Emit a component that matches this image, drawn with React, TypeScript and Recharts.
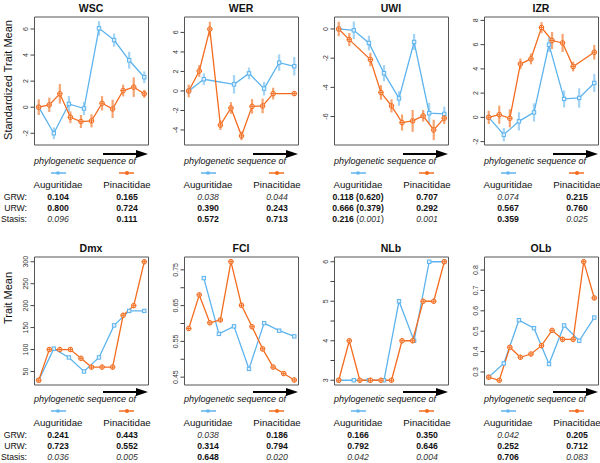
import { LineChart, Line, XAxis, YAxis, ErrorBar, ReferenceArea } from 'recharts';

const BLUE = '#5cb3ee';
const BLUE_ERR = '#a3d3f5';
const ORANGE = '#f36c1f';
const ORANGE_ERR = '#f6a472';
const FONT = '"Liberation Sans", Arial, sans-serif';

// positions along the phylogenetic sequence
const augPos = [0, 1.43, 2.86, 4.29, 5.71, 7.14, 8.57, 10];
const pinPos = [0, 1, 2, 3, 4, 5, 6, 7, 8, 9, 10];

// standardized traits (with error bars)
const wscAug = [0, -2.0, 0.25, -0.1, 6.05, 5.15, 3.6, 2.3];
const wscAugErr = [0, 0.45, 0.6, 0.5, 0.55, 0.5, 0.65, 0.45];
const wscPin = [0, 0.18, 1.03, -0.77, -1.1, -1.05, 0.3, -0.13, 1.28, 1.54, 1.03];
const wscPinErr = [0.6, 0.55, 0.75, 0.45, 0.5, 0.5, 0.55, 0.7, 0.45, 0.75, 0.3];

const werAug = [0, 1.2, null, 0.68, 1.8, 0.24, 2.9, 2.53];
const werAugErr = [0, 0.6, null, 0.95, 0.6, 0.7, 0.85, 0.95];
const werPin = [0, 2.05, 6.34, -3.5, -1.75, -4.6, -1.58, -1.54, -0.27, null, -0.27];
const werPinErr = [0.65, 0.6, 0.75, 0.5, 0.6, 0.45, 0.75, 0.75, 0.6, null, 0.2];

const uwiAug = [0, -0.09, -0.96, -3.03, -4.76, -0.89, -5.77, -5.82];
const uwiAugErr = [0, 0.6, 0.5, 0.55, 0.5, 0.55, 0.7, 0.5];
const uwiPin = [0, -0.73, null, -2.1, -4.35, -5.27, -6.41, -6.3, -5.95, -6.92, -6.11];
const uwiPinErr = [0.5, 0.45, null, 0.45, 0.5, 0.45, 0.55, 0.75, 0.4, 0.7, 0.4];

const izrAug = [0, -1.43, -0.33, 0.41, 6.0, 1.52, 1.6, 2.84];
const izrAugErr = [0, 0.55, 0.75, 0.75, 0.6, 0.7, 0.8, 0.75];
const izrPin = [0, 0.22, -0.08, 4.41, 4.82, 7.41, 6.34, 6.14, 4.19, null, 5.37];
const izrPinErr = [0.55, 0.75, 0.75, 0.45, 0.45, 0.45, 0.7, 0.75, 0.4, null, 0.6];

// raw traits
const dmxAug = [30, 102, 82, 50, 82, 155, 188, 188];
const dmxPin = [30, 100, 100, 100, 80, 60, 60, 60, 178, 200, 300];
const fciAug = [null, 0.727, 0.571, 0.592, 0.473, 0.601, 0.58, 0.564];
const fciPin = [0.586, 0.68, 0.602, 0.61, 0.773, 0.651, 0.591, 0.529, 0.478, 0.46, 0.442];
const nlbAug = [3, 3, 3, 3, 5, 4, 6, 6];
const nlbPin = [3, 4, 3, 3, 3, 3, 4, 4, 5, 5, 6];
const olbAug = [0.275, 0.342, 0.554, 0.515, 0.339, 0.528, 0.453, 0.567];
const olbPin = [0.274, 0.259, 0.421, 0.372, 0.388, 0.429, 0.504, 0.46, 0.46, 0.841, 0.663];

// model support (b = bold, i = italic, n = plain)
const statRows = ['GRW:', 'URW:', 'Stasis:'];
const wscStats = [['b:0.104', 'b:0.800', 'i:0.096'], ['b:0.165', 'b:0.724', 'b:0.111']];
const werStats = [['i:0.038', 'b:0.390', 'b:0.572'], ['i:0.044', 'b:0.243', 'b:0.713']];
const uwiStats = [['b:0.118 (0.620)', 'b:0.666 (0.379)', 'b:0.216|n: (|i:0.001|n:)'], ['b:0.707', 'b:0.292', 'i:0.001']];
const izrStats = [['i:0.074', 'b:0.567', 'b:0.359'], ['b:0.215', 'b:0.760', 'i:0.025']];
const dmxStats = [['b:0.241', 'b:0.723', 'i:0.036'], ['b:0.443', 'b:0.552', 'i:0.005']];
const fciStats = [['i:0.038', 'b:0.314', 'b:0.648'], ['b:0.186', 'b:0.794', 'i:0.020']];
const nlbStats = [['b:0.166', 'b:0.792', 'i:0.042'], ['b:0.350', 'b:0.646', 'i:0.004']];
const olbStats = [['i:0.042', 'b:0.252', 'b:0.706'], ['b:0.205', 'b:0.712', 'i:0.083']];

const toRows = (pos: number[], ys: (number | null)[], errs?: (number | null)[]) =>
  pos
    .map((x, i) => ({ x, y: ys[i], e: errs ? errs[i] : undefined }))
    .filter((d) => d.y !== null && d.y !== undefined);

const panels = [
  { title: 'WSC', col: 0, row: 0, aug: toRows(augPos, wscAug, wscAugErr), pin: toRows(pinPos, wscPin, wscPinErr), domain: [-2.9, 6.92], ticks: [-2, 0, 2, 4, 6], labels: null, stats: wscStats },
  { title: 'WER', col: 1, row: 0, aug: toRows(augPos, werAug, werAugErr), pin: toRows(pinPos, werPin, werPinErr), domain: [-5.54, 7.58], ticks: [-4, -2, 0, 2, 4, 6], labels: null, stats: werStats },
  { title: 'UWI', col: 2, row: 0, aug: toRows(augPos, uwiAug, uwiAugErr), pin: toRows(pinPos, uwiPin, uwiPinErr), domain: [-7.95, 0.82], ticks: [-6, -4, -2, 0], labels: null, stats: uwiStats },
  { title: 'IZR', col: 3, row: 0, aug: toRows(augPos, izrAug, izrAugErr), pin: toRows(pinPos, izrPin, izrPinErr), domain: [-2.28, 8.28], ticks: [-2, 0, 2, 4, 6, 8], labels: null, stats: izrStats },
  { title: 'Dmx', col: 0, row: 1, aug: toRows(augPos, dmxAug), pin: toRows(pinPos, dmxPin), domain: [19.2, 310.8], ticks: [50, 100, 150, 200, 250, 300], labels: null, stats: dmxStats },
  { title: 'FCI', col: 1, row: 1, aug: toRows(augPos, fciAug), pin: toRows(pinPos, fciPin), domain: [0.428, 0.786], ticks: [0.45, 0.5, 0.55, 0.6, 0.65, 0.7, 0.75], labels: [0.45, 0.55, 0.65, 0.75], stats: fciStats },
  { title: 'NLb', col: 2, row: 1, aug: toRows(augPos, nlbAug), pin: toRows(pinPos, nlbPin), domain: [2.88, 6.12], ticks: [3, 3.5, 4, 4.5, 5, 5.5, 6], labels: [3, 4, 5, 6], stats: nlbStats },
  { title: 'OLb', col: 3, row: 1, aug: toRows(augPos, olbAug), pin: toRows(pinPos, olbPin), domain: [0.236, 0.864], ticks: [0.3, 0.4, 0.5, 0.6, 0.7, 0.8], labels: null, stats: olbStats },
];

const augDot = (p: any) => {
  const { cx, cy, index } = p;
  if (cx == null || cy == null) return <g key={`a${index}`} />;
  return <rect key={`a${index}`} x={cx - 1.7} y={cy - 1.7} width={3.4} height={3.4} fill="#dff0fc" stroke={BLUE} strokeWidth={1} />;
};

const pinDot = (p: any) => {
  const { cx, cy, index } = p;
  if (cx == null || cy == null) return <g key={`p${index}`} />;
  return (
    <g key={`p${index}`}>
      <circle cx={cx} cy={cy} r={2.3} fill="#fde3d2" stroke={ORANGE} strokeWidth={1} />
      <line x1={cx - 2.5} x2={cx + 2.5} y1={cy} y2={cy} stroke={ORANGE} strokeWidth={0.9} />
      <line x1={cx} x2={cx} y1={cy - 2.5} y2={cy + 2.5} stroke={ORANGE} strokeWidth={0.9} />
    </g>
  );
};

const makeTick = (labels: number[] | null) => (p: any) => {
  const { x, y, payload, index } = p;
  const v = payload.value;
  const show = !labels || labels.includes(v);
  return (
    <text key={`t${index}`} x={x} y={y} transform={`rotate(-90 ${x} ${y})`} textAnchor="middle" fontSize={7} fill="#333" fontFamily={FONT}>
      {show ? String(v) : ''}
    </text>
  );
};

function StatText({ x, y, spec }: { x: number; y: number; spec: string }) {
  const parts = spec.split('|').map((s) => [s.slice(0, 1), s.slice(2)]);
  return (
    <text x={x} y={y} textAnchor="middle" dominantBaseline="central" fontSize={8.7} fill="#111" fontFamily={FONT}>
      {parts.map(([k, t], i) => (
        <tspan key={i} fontWeight={k === 'b' ? 'bold' : 'normal'} fontStyle={k === 'i' ? 'italic' : 'normal'} fill={k === 'i' ? '#333' : '#111'}>
          {t}
        </tspan>
      ))}
    </text>
  );
}

function PanelText({ col, row, title, stats }: { col: number; row: number; title: string; stats: string[][] }) {
  const px = col * 150;
  const py = row * 240;
  const s = row === 0 ? 0 : -2;
  const augX = px + 58;
  const pinX = px + 127;
  return (
    <g>
      <text x={px + 91} y={py + 8} textAnchor="middle" dominantBaseline="central" fontSize={10.5} fontWeight="bold" fontFamily={FONT} fill="#111">
        {title}
      </text>
      <line x1={px + 103} x2={px + 139} y1={py + 154 + s} y2={py + 154 + s} stroke="#000" strokeWidth={1.8} />
      <polygon points={`${px + 148},${py + 154 + s} ${px + 136},${py + 150 + s} ${px + 136},${py + 158 + s}`} fill="#000" />
      <text x={px + 85} y={py + 161 + s} textAnchor="middle" dominantBaseline="central" fontSize={9} fontStyle="italic" fontFamily={FONT} fill="#111">
        phylogenetic sequence of
      </text>
      <line x1={augX - 7} x2={augX + 8} y1={py + 173 + s} y2={py + 173 + s} stroke={BLUE} strokeWidth={1.5} />
      <rect x={augX - 1.5} y={py + 171.5 + s} width={3} height={3} fill={BLUE} />
      <line x1={pinX - 8} x2={pinX + 7} y1={py + 173 + s} y2={py + 173 + s} stroke={ORANGE} strokeWidth={1.5} />
      <circle cx={pinX} cy={py + 173 + s} r={2} fill={ORANGE} />
      <text x={augX} y={py + 184 + s} textAnchor="middle" dominantBaseline="central" fontSize={9.7} fontFamily={FONT} fill="#111">
        Auguritidae
      </text>
      <text x={pinX} y={py + 184 + s} textAnchor="middle" dominantBaseline="central" fontSize={9.7} fontFamily={FONT} fill="#111">
        Pinacitidae
      </text>
      {[0, 1, 2].map((r) => (
        <g key={r}>
          {col === 0 && (
            <text x={27} y={py + 197 + s + r * 11} textAnchor="end" dominantBaseline="central" fontSize={8.7} fontFamily={FONT} fill="#111">
              {statRows[r]}
            </text>
          )}
          <StatText x={augX} y={py + 197 + s + r * 11} spec={stats[0][r]} />
          <StatText x={pinX} y={py + 197 + s + r * 11} spec={stats[1][r]} />
        </g>
      ))}
    </g>
  );
}

export default function App() {
  return (
    <div style={{ position: 'absolute', left: 0, top: 0, width: 600, height: 463, background: '#fff', fontFamily: FONT }}>
      {panels.map((p) => (
        <div key={p.title} style={{ position: 'absolute', left: p.col * 150, top: p.row * 240 }}>
          <LineChart width={150} height={150} margin={{ top: 17, right: 1.5, bottom: 5, left: 0 }}>
            <XAxis type="number" dataKey="x" domain={[-0.4, 10.4]} hide allowDataOverflow />
            <YAxis
              type="number"
              domain={p.domain}
              ticks={p.ticks}
              interval={0}
              tick={makeTick(p.labels)}
              tickSize={4}
              tickMargin={2}
              tickLine={{ stroke: '#444' }}
              axisLine={false}
              width={34.5}
              allowDataOverflow
            />
            <ReferenceArea x1={-0.4} x2={10.4} y1={p.domain[0]} y2={p.domain[1]} fill="none" fillOpacity={0} stroke="#555" strokeWidth={1} ifOverflow="visible" />
            <Line data={p.aug} dataKey="y" type="linear" stroke={BLUE} strokeWidth={1.3} dot={augDot} activeDot={false} isAnimationActive={false}>
              {p.row === 0 && <ErrorBar dataKey="e" width={0} stroke={BLUE_ERR} strokeWidth={2.2} direction="y" isAnimationActive={false} />}
            </Line>
            <Line data={p.pin} dataKey="y" type="linear" stroke={ORANGE} strokeWidth={1.3} dot={pinDot} activeDot={false} isAnimationActive={false}>
              {p.row === 0 && <ErrorBar dataKey="e" width={0} stroke={ORANGE_ERR} strokeWidth={2.2} direction="y" isAnimationActive={false} />}
            </Line>
          </LineChart>
        </div>
      ))}
      <svg width={600} height={463} style={{ position: 'absolute', left: 0, top: 0, pointerEvents: 'none' }}>
        <text x={8} y={80} transform="rotate(-90 8 80)" textAnchor="middle" dominantBaseline="central" fontSize={11} fontFamily={FONT} fill="#111">
          Standardized Trait Mean
        </text>
        <text x={8} y={298} transform="rotate(-90 8 298)" textAnchor="middle" dominantBaseline="central" fontSize={11} fontFamily={FONT} fill="#111">
          Trait Mean
        </text>
        {panels.map((p) => (
          <PanelText key={p.title} col={p.col} row={p.row} title={p.title} stats={p.stats} />
        ))}
      </svg>
    </div>
  );
}
